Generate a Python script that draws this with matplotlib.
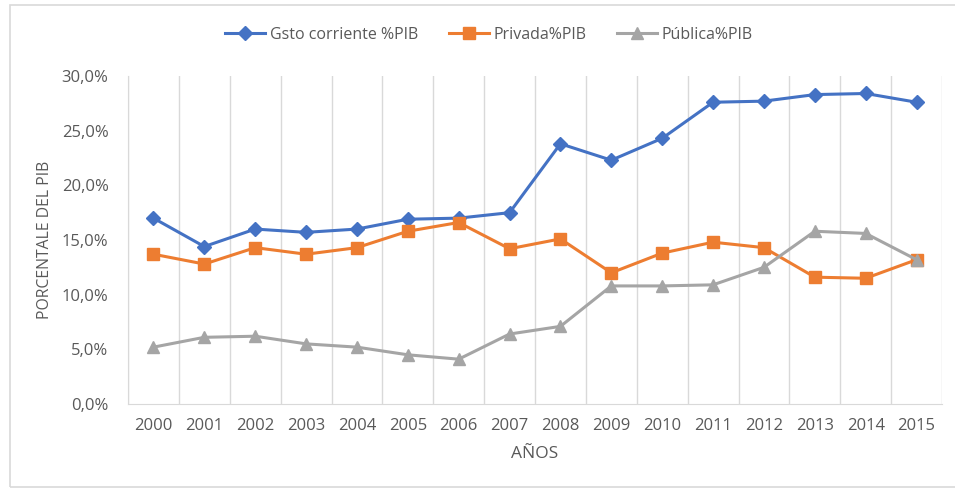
import matplotlib
matplotlib.use("Agg")
import matplotlib.pyplot as plt
from matplotlib.patches import Rectangle
from matplotlib.ticker import FuncFormatter

years = ["2000", "2001", "2002", "2003", "2004", "2005", "2006", "2007",
         "2008", "2009", "2010", "2011", "2012", "2013", "2014", "2015"]
gasto = [17.0, 14.4, 16.0, 15.7, 16.0, 16.9, 17.0, 17.5,
         23.8, 22.3, 24.3, 27.6, 27.7, 28.3, 28.4, 27.6]
privada = [13.7, 12.8, 14.3, 13.7, 14.3, 15.8, 16.6, 14.2,
           15.1, 12.0, 13.8, 14.8, 14.3, 11.6, 11.5, 13.2]
publica = [5.2, 6.1, 6.2, 5.5, 5.2, 4.5, 4.1, 6.4,
           7.1, 10.8, 10.8, 10.9, 12.5, 15.8, 15.6, 13.2]

plt.rcParams['font.family'] = ['Open Sans', 'DejaVu Sans']
txt = '#595959'

fig = plt.figure(figsize=(9.55, 4.88), dpi=100)
fig.patches.append(Rectangle((10/955, 1/488), 1.0, 482/488, transform=fig.transFigure,
                             fill=False, edgecolor='#d9d9d9', linewidth=1.2))
ax = fig.add_axes([128/955, 1-404/488, (942-128)/955, (404-76)/488])

x = list(range(len(years)))
ax.plot(x, gasto, color='#4472C4', marker='D', markersize=7.5, linewidth=2.2, label='Gsto corriente %PIB')
ax.plot(x, privada, color='#ED7D31', marker='s', markersize=8, linewidth=2.2, label='Privada%PIB')
ax.plot(x, publica, color='#A5A5A5', marker='^', markersize=9, linewidth=2.2, label='Pública%PIB')

ax.set_xlim(-0.5, len(years) - 0.5)
ax.set_ylim(0, 30)
ax.set_yticks([0, 5, 10, 15, 20, 25, 30])
ax.yaxis.set_major_formatter(FuncFormatter(lambda v, p: f"{v:.1f}%".replace('.', ',')))
ax.set_xticks(x)
ax.set_xticklabels(years)
ax.set_xticks([i - 0.5 for i in range(len(years) + 1)], minor=True)
ax.grid(False)
ax.grid(True, which='minor', axis='x', color='#d9d9d9', linewidth=1)
ax.tick_params(axis='both', which='both', length=0, colors=txt, labelsize=12)
ax.tick_params(axis='y', pad=14)
ax.tick_params(axis='x', pad=10)
for s in ['top', 'right']:
    ax.spines[s].set_visible(False)
ax.spines['left'].set_color('#d9d9d9')
ax.spines['bottom'].set_color('#d9d9d9')

ax.set_xlabel('AÑOS', color=txt, fontsize=12.5, labelpad=9)
ax.set_ylabel('PORCENTALE DEL PIB', color=txt, fontsize=11.3, labelpad=6)

fig.legend(loc='center', bbox_to_anchor=(0.512, 1-35/488), ncol=3, frameon=False,
           fontsize=11.5, labelcolor=txt, handlelength=2.5, columnspacing=1.9, handletextpad=0.3)

fig.savefig('out.png', dpi=100)
